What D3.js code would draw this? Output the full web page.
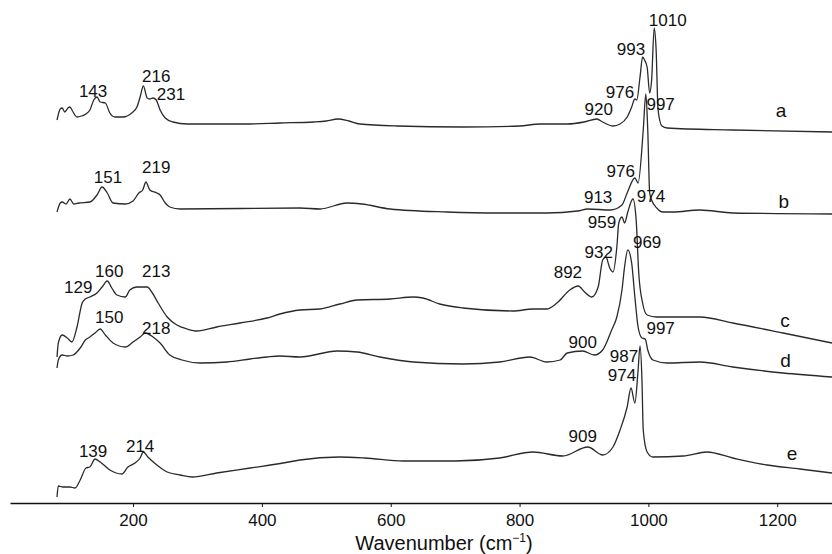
<!DOCTYPE html>
<html>
<head>
<meta charset="utf-8" />
<title>Raman spectra</title>
<script src="https://d3js.org/d3.v7.min.js"></script>
<style>
  body { margin: 0; background: #fff; }
  text { font-family: Arial, "Liberation Sans", sans-serif; fill: #111; }
</style>
</head>
<body>
<div id="chart"></div>
<script>
// [wavenumber, intensity (stacked, arbitrary units)]
const specA = [[82,383],[87,394],[90,395],[94,391],[99,395],[102,396],[106,392],[113,386],[120,387],[127,389],[133,393],[139,403],[144,406],[149,401],[157,400],[164,390],[172,386],[184,386],[198,390],[206,396],[211,406],[216,417],[222,405],[226,404],[231,405],[236,403],[242,393],[250,385],[262,381],[284,379],[330,379],[380,379],[428,380],[480,381],[500,382],[518,384],[535,382],[552,379],[610,377],[712,376],[800,377],[832,379],[874,379],[900,381],[920,384],[929,381],[945,377],[956,379],[967,386],[974,396],[979,404],[982,403],[987,426],[991,446],[994,443],[998,436],[1002,410],[1005,423],[1009,475],[1012,453],[1015,393],[1021,377],[1029,375],[1131,373],[1285,371]];
const specB = [[82,291],[87,300],[90,301],[96,299],[102,304],[108,299],[116,300],[133,301],[144,308],[152,316],[160,310],[169,300],[188,299],[200,302],[209,310],[215,313],[220,321],[226,313],[237,310],[242,308],[250,300],[257,296],[273,294],[459,295],[490,294],[532,300],[555,299],[599,294],[687,291],[769,290],[842,290],[890,292],[906,294],[941,293],[959,298],[967,310],[979,325],[984,320],[992,373],[996,409],[999,373],[1002,310],[1005,303],[1013,295],[1022,291],[1038,291],[1080,293],[1131,290],[1285,289]];
const specC = [[82,146],[84,160],[90,168],[98,165],[105,161],[113,176],[121,200],[126,204],[133,206],[144,210],[152,216],[160,222],[167,215],[175,208],[188,206],[195,213],[206,216],[222,216],[229,211],[239,200],[253,186],[268,178],[284,174],[299,172],[330,176],[366,180],[408,185],[428,189],[459,193],[490,194],[521,199],[548,203],[599,204],[635,206],[650,205],[676,199],[712,195],[790,192],[821,194],[842,194],[858,200],[878,213],[891,217],[901,211],[912,206],[922,216],[929,243],[934,246],[940,235],[945,231],[951,256],[954,280],[959,286],[963,280],[968,291],[976,304],[981,283],[985,230],[991,200],[998,188],[1013,186],[1080,186],[1131,180],[1209,170],[1285,160]];
const specD = [[82,135],[84,143],[90,148],[98,147],[107,148],[118,155],[126,163],[133,166],[141,170],[149,174],[157,168],[169,160],[188,156],[200,161],[211,166],[219,170],[231,166],[242,160],[257,148],[276,143],[304,140],[346,141],[382,144],[408,146],[428,147],[459,146],[517,152],[548,151],[583,146],[635,141],[712,139],[769,141],[816,146],[842,141],[863,143],[874,150],[898,152],[916,148],[929,153],[943,173],[951,186],[959,213],[963,236],[968,253],[974,240],[979,206],[984,176],[990,165],[995,164],[999,153],[1007,143],[1029,140],[1080,141],[1131,136],[1209,130],[1285,126]];
const specE = [[82,6],[84,17],[91,16],[102,16],[110,15],[118,23],[127,35],[133,36],[141,44],[149,41],[164,33],[183,29],[192,36],[203,40],[211,45],[216,51],[223,46],[237,38],[253,31],[273,28],[292,26],[330,30],[382,35],[433,40],[459,43],[520,46],[560,45],[620,42],[700,42],[769,45],[821,51],[867,47],[906,56],[929,48],[945,56],[956,73],[967,96],[973,115],[979,100],[984,133],[987,157],[990,123],[992,73],[998,51],[1007,46],[1054,47],[1091,51],[1131,45],[1184,38],[1235,34],[1285,30]];

const spectra = [specA, specB, specC, specD, specE];
const sampleNames = ["a", "b", "c", "d", "e"];
const sampleLabelPos = [[1206,386],[1210,295],[1212,176],[1213,136],[1223,43]];

// [text, wavenumber, intensity]
const peakLabels = [
  ["1010",1030,477],["993",973,448],["976",956,405],["920",923,388],["997",1019,393],
  ["143",138,406],["216",236,421],["231",259,403],
  ["976",957,326],["913",922,300],["974",1004,301],["151",161,320],["219",236,330],
  ["959",928,275],["932",923,245],["969",998,255],["892",875,225],
  ["129",115,210],["160",163,226],["213",236,226],
  ["997",1019,169],["900",898,155],["987",962,141],["150",163,180],["218",236,169],
  ["974",959,122],["909",898,61],["139",138,46],["214",211,51]
];

const xTicks = [200, 400, 600, 800, 1000, 1200];

const width = 832, height = 554;
const axisY = 503;

const svg = d3.select("#chart")
  .append("svg")
    .attr("width", width)
    .attr("height", height);

const x = d3.scaleLinear().domain([9, 1285]).range([10, 832]);
const y = d3.scaleLinear().domain([0, 503]).range([axisY, 0]);

const line = d3.line()
  .x(d => x(d[0]))
  .y(d => y(d[1]))
  .curve(d3.curveMonotoneX);

svg.append("g")
  .selectAll("path")
  .data(spectra)
  .join("path")
    .attr("d", line)
    .attr("fill", "none")
    .attr("stroke", "#2a2a2a")
    .attr("stroke-width", 1.3);

// axis
const xAxis = svg.append("g")
  .attr("transform", `translate(0,${axisY})`)
  .call(d3.axisBottom(x).tickValues(xTicks).tickFormat(d3.format("d"))
    .tickSize(4).tickSizeOuter(0).tickPadding(7));
xAxis.select(".domain").attr("stroke", "#111").attr("stroke-width", 1.6);
xAxis.selectAll(".tick line").attr("stroke", "#111");
xAxis.selectAll(".tick text")
  .style("font-size", "17px")
  .style("font-family", "Arial, 'Liberation Sans', sans-serif")
  .attr("fill", "#111");

const title = svg.append("text")
  .attr("x", 444)
  .attr("y", 550)
  .attr("text-anchor", "middle")
  .style("font-size", "20px");
title.append("tspan").text("Wavenumber (cm");
title.append("tspan").text("−1").attr("dy", -8).style("font-size", "12px");
title.append("tspan").text(")").attr("dy", 8);

// peak labels
svg.append("g")
  .selectAll("text")
  .data(peakLabels)
  .join("text")
    .attr("x", d => x(d[1]))
    .attr("y", d => y(d[2]))
    .attr("text-anchor", "middle")
    .style("font-size", "17px")
    .text(d => d[0]);

// sample names
svg.append("g")
  .selectAll("text")
  .data(sampleNames)
  .join("text")
    .attr("x", (d, i) => x(sampleLabelPos[i][0]))
    .attr("y", (d, i) => y(sampleLabelPos[i][1]))
    .attr("text-anchor", "middle")
    .style("font-size", "19px")
    .text(d => d);
</script>
</body>
</html>
